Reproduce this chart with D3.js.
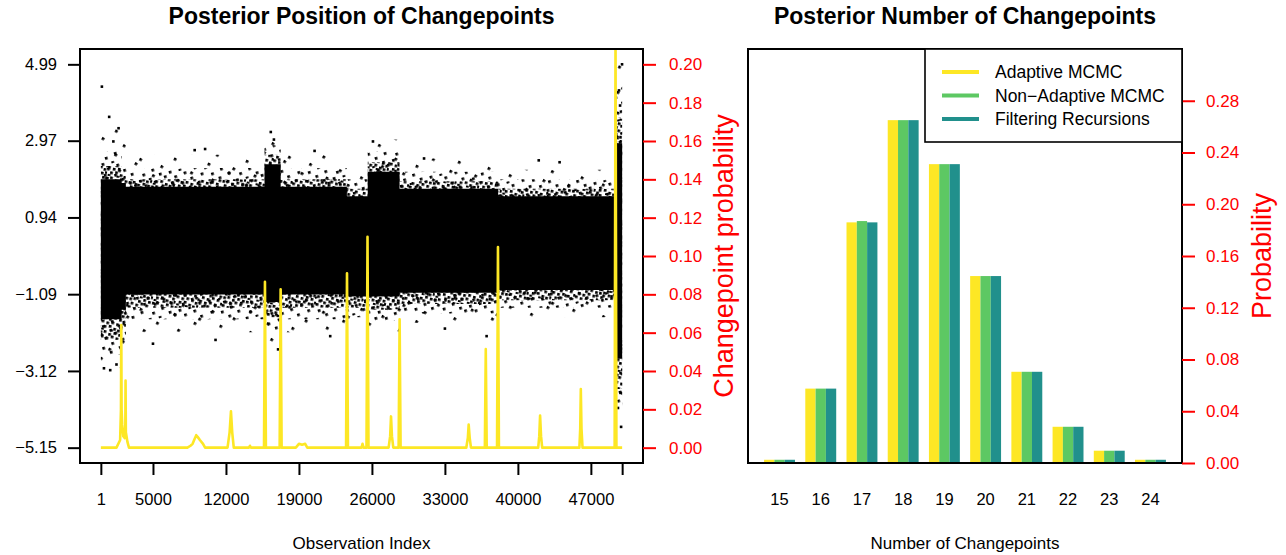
<!DOCTYPE html>
<html>
<head>
<meta charset="utf-8">
<script src="https://cdn.jsdelivr.net/npm/d3@7"></script>
<style>
  body { margin: 0; background: #fff; }
  svg { display: block; }
  text { font-family: "Liberation Sans", Arial, sans-serif; }
</style>
</head>
<body>
<svg id="chart" width="1286" height="555"></svg>
<script>
// ---------- left panel: observed series and changepoint probability ----------
const obsFirst = 1;
const obsLast = 50000;
const obsTicks = [1, 5000, 12000, 19000, 26000, 33000, 40000, 47000, 50000];
const obsTickLabels = ["1", "5000", "12000", "19000", "26000", "33000", "40000", "47000", ""];
const valueTicks = [-5.15, -3.12, -1.09, 0.94, 2.97, 4.99];
const probTicks = [0, 0.02, 0.04, 0.06, 0.08, 0.10, 0.12, 0.14, 0.16, 0.18, 0.20];

// spread of the observation cloud per segment (segment start index)
const segStart = [1, 2000, 2400, 15700, 17250, 23600, 25600, 28650, 38100, 49365, 50000];
const outerHi  = [3.3, 2.9, 2.6, 3.15, 2.6, 2.3, 3.0, 2.5, 2.2, 4.99, 4.99];
const midHi    = [2.7, 2.45, 2.25, 2.85, 2.25, 1.95, 2.7, 2.15, 1.95, 4.2, 4.2];
const innerHi  = [2.3, 2.1, 1.95, 2.6, 1.95, 1.7, 2.4, 1.9, 1.7, 3.6, 3.6];
const coreHi   = [1.95, 1.85, 1.75, 2.35, 1.75, 1.5, 2.15, 1.7, 1.5, 2.9, 2.9];
const coreLo   = [-1.75, -1.5, -1.1, -1.3, -1.1, -1.15, -1.15, -1.05, -0.98, -2.8, -2.8];
const innerLo  = [-2.3, -2.0, -1.45, -1.7, -1.45, -1.45, -1.5, -1.35, -1.25, -3.6, -3.6];
const midLo    = [-2.7, -2.4, -1.75, -2.05, -1.75, -1.7, -1.8, -1.6, -1.45, -4.2, -4.2];
const outerLo  = [-3.05, -2.75, -2.1, -2.4, -2.1, -1.95, -2.15, -1.85, -1.7, -4.7, -4.7];

// isolated observations outside the cloud
const outIdx = [100, 800, 1700, 1200, 300, 900, 1500, 16300, 16600, 26100, 49990, 49900, 49700, 49800, 49600, 49850, 10000, 9000, 20500, 31000, 42000, 44000, 5000, 11000, 17000, 22000, 33000, 37000];
const outVal = [4.4, 3.6, 3.3, 2.95, -3.05, -3.1, -2.95, 3.2, 3.0, 2.95, 4.99, -4.6, 4.3, 3.9, -4.1, -3.7, 2.75, 2.72, 2.7, 2.5, 2.45, 2.4, -2.4, -2.3, -2.55, -2.2, -2.0, -2.2];

// posterior changepoint probability (index, probability)
const cpIdx = [1, 1500, 1850, 1930, 1960, 1990, 2050, 2150, 2300, 2350, 2371, 2400, 2550, 2700,
  8300, 8600, 8800, 8950, 9150, 9300, 9500, 9800, 10000,
  12150, 12350, 12480, 12600, 12750,
  14200, 14300, 14400,
  15650, 15740, 15830,
  17150, 17246, 17340,
  18700, 19000, 19300, 19600, 19800,
  23520, 23610, 23700,
  25000, 25100, 25200,
  25480, 25577, 25670,
  27600, 27750, 27832, 27920, 28050,
  28560, 28657, 28750,
  35050, 35200, 35280, 35380, 35500,
  36830, 36920, 37010,
  38000, 38090, 38180,
  41950, 42050, 42130, 42220, 42330,
  45900, 45980, 46035, 46100, 46200,
  49280, 49365, 49450, 50000];
const cpProb = [0, 0, 0.004, 0.02, 0.064, 0.02, 0.012, 0.006, 0.005, 0.012, 0.035, 0.008, 0.003, 0,
  0, 0.001, 0.002, 0.004, 0.0065, 0.0055, 0.004, 0.002, 0,
  0, 0.008, 0.019, 0.008, 0,
  0, 0.001, 0,
  0, 0.0866, 0,
  0, 0.0826, 0,
  0, 0.002, 0.0015, 0.002, 0,
  0, 0.091, 0,
  0, 0.002, 0,
  0, 0.110, 0,
  0, 0.006, 0.0163, 0.006, 0,
  0, 0.067, 0,
  0, 0.005, 0.012, 0.005, 0,
  0, 0.0514, 0,
  0, 0.1047, 0,
  0, 0.006, 0.0167, 0.006, 0,
  0, 0.01, 0.0306, 0.01, 0,
  0, 0.215, 0, 0];

// ---------- right panel: posterior number of changepoints ----------
const nChange = [15, 16, 17, 18, 19, 20, 21, 22, 23, 24];
const seriesNames = ["Adaptive MCMC", "Non\u2212Adaptive MCMC", "Filtering Recursions"];
const adaptive    = [0.0025, 0.0575, 0.186, 0.265, 0.231, 0.1445, 0.0705, 0.028, 0.0095, 0.0025];
const nonAdaptive = [0.0025, 0.0575, 0.187, 0.265, 0.231, 0.1445, 0.0705, 0.028, 0.0095, 0.0025];
const filtering   = [0.0025, 0.0575, 0.186, 0.265, 0.231, 0.1445, 0.0705, 0.028, 0.0095, 0.0025];
const barTicks = [0, 0.04, 0.08, 0.12, 0.16, 0.20, 0.24, 0.28];

const colors = ["#FDE725", "#5DC863", "#21908C"];
const red = "#FF0000";

const svg = d3.select("#chart");

// ===== left panel =====
const L = { x0: 80, x1: 643, y0: 49, y1: 463 };
const pad = (L.x1 - L.x0) / 1.08 * 0.04;
const x = d3.scaleLinear().domain([obsFirst, obsLast]).range([L.x0 + pad, L.x1 - pad]);
const padY = (L.y1 - L.y0) / 1.08 * 0.04;
const y = d3.scaleLinear().domain([valueTicks[0], valueTicks[valueTicks.length - 1]]).range([L.y1 - padY, L.y0 + padY]);
const yp = d3.scaleLinear().domain([0, 0.2]).range(y.range());

const defs = svg.append("defs");
defs.append("clipPath").attr("id", "clipL").append("rect")
  .attr("x", L.x0).attr("y", L.y0).attr("width", L.x1 - L.x0).attr("height", L.y1 - L.y0);

// stipple textures for the thinning edges of the cloud
function stipple(id, w, h, rot, dots) {
  const p = defs.append("pattern").attr("id", id).attr("patternUnits", "userSpaceOnUse")
    .attr("width", w).attr("height", h).attr("patternTransform", `rotate(${rot})`);
  dots.forEach(([a, b]) => p.append("rect").attr("x", a).attr("y", b)
    .attr("width", 2.7).attr("height", 2.7).attr("fill", "#000"));
}
stipple("dense", 23, 19, 11, [[0, 1], [4, 0], [9, 2], [14, 0], [19, 1], [2, 5], [7, 6], [12, 4], [17, 5], [21, 8],
  [0, 9], [5, 10], [10, 9], [15, 10], [19, 12], [3, 14], [8, 13], [13, 15], [17, 16], [21, 15], [1, 17], [10, 17]]);
stipple("mid", 31, 27, -17, [[1, 2], [12, 0], [22, 3], [6, 9], [17, 8], [27, 11], [2, 17], [12, 15], [23, 19], [8, 23], [18, 24], [28, 25]]);
stipple("sparse", 43, 37, 29, [[3, 4], [25, 2], [14, 16], [35, 20], [6, 29], [27, 33]]);

const gL = svg.append("g").attr("clip-path", "url(#clipL)");
const segs = segStart.map((s, i) => i);
function band(hi, lo) {
  return d3.area().curve(d3.curveStepAfter)
    .x(i => x(segStart[i])).y0(i => y(lo[i])).y1(i => y(hi[i]))(segs);
}
gL.append("path").attr("d", band(outerHi, outerLo)).attr("fill", "url(#sparse)");
gL.append("path").attr("d", band(midHi, midLo)).attr("fill", "url(#mid)");
gL.append("path").attr("d", band(innerHi, innerLo)).attr("fill", "url(#dense)");
gL.append("path").attr("d", band(coreHi, coreLo)).attr("fill", "#000");
gL.selectAll("rect.out").data(outIdx).join("rect").attr("class", "out")
  .attr("x", (d) => x(d) - 1.3).attr("y", (d, i) => y(outVal[i]) - 1.3)
  .attr("width", 2.6).attr("height", 2.6).attr("fill", "#000");

gL.append("path")
  .attr("d", d3.line().x(i => x(cpIdx[i])).y(i => yp(cpProb[i]))(cpIdx.map((d, i) => i)))
  .attr("fill", "none").attr("stroke", colors[0]).attr("stroke-width", 2.6).attr("stroke-linejoin", "round");

svg.append("rect").attr("x", L.x0).attr("y", L.y0).attr("width", L.x1 - L.x0).attr("height", L.y1 - L.y0)
  .attr("fill", "none").attr("stroke", "#000").attr("stroke-width", 2);

// bottom axis
const axB = svg.append("g").attr("transform", `translate(0,${L.y1})`)
  .call(d3.axisBottom(x).tickValues(obsTicks).tickSize(12).tickPadding(18).tickFormat((d, i) => obsTickLabels[i]));
axB.select(".domain").remove();
axB.selectAll("line").attr("stroke", "#000").attr("stroke-width", 2);
axB.selectAll("text").attr("font-size", 16.5).attr("fill", "#000");

// left axis
const axLft = svg.append("g").attr("transform", `translate(${L.x0},0)`)
  .call(d3.axisLeft(y).tickValues(valueTicks).tickSize(12).tickPadding(11).tickFormat(d => d3.format(".2f")(d).replace("-", "\u2212")));
axLft.select(".domain").remove();
axLft.selectAll("line").attr("stroke", "#000").attr("stroke-width", 2);
axLft.selectAll("text").attr("font-size", 16.5).attr("fill", "#000");

// right probability axis
const axR = svg.append("g").attr("transform", `translate(${L.x1},0)`)
  .call(d3.axisRight(yp).tickValues(probTicks).tickSize(13).tickPadding(13).tickFormat(d3.format(".2f")));
axR.select(".domain").remove();
axR.selectAll("line").attr("stroke", red).attr("stroke-width", 2);
axR.selectAll("text").attr("font-size", 17).attr("fill", red);

svg.append("text").attr("x", (L.x0 + L.x1) / 2).attr("y", 24).attr("text-anchor", "middle")
  .attr("font-size", 23).attr("font-weight", "bold").text("Posterior Position of Changepoints");
svg.append("text").attr("x", (L.x0 + L.x1) / 2).attr("y", 549).attr("text-anchor", "middle")
  .attr("font-size", 17).text("Observation Index");
svg.append("text").attr("transform", `translate(733,${(L.y0 + L.y1) / 2}) rotate(-90)`).attr("text-anchor", "middle")
  .attr("font-size", 27).attr("fill", red).text("Changepoint probability");

// ===== right panel =====
const R = { x0: 748, x1: 1182, y0: 49, y1: 463 };
const nUnits = nChange.length * (seriesNames.length + 1);
const ext = (nUnits - 1) * 0.04;
const xb = d3.scaleLinear().domain([1 - ext, nUnits + ext]).range([R.x0, R.x1]);
const yb = d3.scaleLinear().domain([0, 0.32]).range([R.y1, R.y0]);
const seriesVals = [adaptive, nonAdaptive, filtering];

const gR = svg.append("g");
seriesVals.forEach((vals, s) => {
  gR.selectAll(null).data(vals).join("rect")
    .attr("x", (d, g) => xb(1 + 4 * g + s))
    .attr("width", xb(2) - xb(1))
    .attr("y", d => yb(d))
    .attr("height", d => yb(0) - yb(d))
    .attr("fill", colors[s]);
});
// group labels
svg.selectAll("text.grp").data(nChange).join("text").attr("class", "grp")
  .attr("x", (d, g) => xb(2.5 + 4 * g)).attr("y", 505).attr("text-anchor", "middle")
  .attr("font-size", 16.5).text(d => d);

svg.append("rect").attr("x", R.x0).attr("y", R.y0).attr("width", R.x1 - R.x0).attr("height", R.y1 - R.y0)
  .attr("fill", "none").attr("stroke", "#000").attr("stroke-width", 2);

const axRb = svg.append("g").attr("transform", `translate(${R.x1},0)`)
  .call(d3.axisRight(yb).tickValues(barTicks).tickSize(13).tickPadding(11).tickFormat(d3.format(".2f")));
axRb.select(".domain").remove();
axRb.selectAll("line").attr("stroke", red).attr("stroke-width", 2);
axRb.selectAll("text").attr("font-size", 17).attr("fill", red);

// legend
const lg = svg.append("g");
lg.append("rect").attr("x", 925).attr("y", R.y0).attr("width", R.x1 - 925).attr("height", 93)
  .attr("fill", "#fff").attr("stroke", "#000").attr("stroke-width", 1.6);
seriesNames.forEach((name, i) => {
  const cy = 72 + i * 23.5;
  lg.append("line").attr("x1", 942).attr("x2", 979).attr("y1", cy).attr("y2", cy)
    .attr("stroke", colors[i]).attr("stroke-width", 4);
  lg.append("text").attr("x", 995).attr("y", cy).attr("dy", "0.35em").attr("font-size", 17.5).text(name);
});

svg.append("text").attr("x", (R.x0 + R.x1) / 2).attr("y", 24).attr("text-anchor", "middle")
  .attr("font-size", 23).attr("font-weight", "bold").text("Posterior Number of Changepoints");
svg.append("text").attr("x", (R.x0 + R.x1) / 2).attr("y", 549).attr("text-anchor", "middle")
  .attr("font-size", 17).text("Number of Changepoints");
svg.append("text").attr("transform", `translate(1271,${(R.y0 + R.y1) / 2}) rotate(-90)`).attr("text-anchor", "middle")
  .attr("font-size", 27).attr("fill", red).text("Probability");
</script>
</body>
</html>
